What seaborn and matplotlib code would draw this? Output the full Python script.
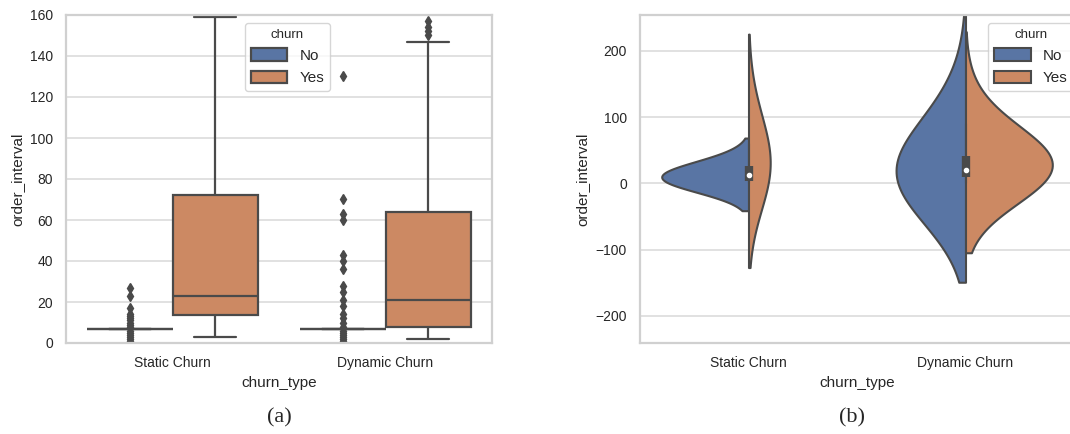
import numpy as np
import pandas as pd
import matplotlib
matplotlib.use("Agg")
import matplotlib.pyplot as plt
import seaborn as sns

# === 0. Data ===
churn_types = ["Static Churn", "Dynamic Churn"]
churn_levels = ["No", "Yes"]

# (a) boxplot: "No" groups are mostly a single value (7) plus many outliers
static_no_mode, static_no_mode_count = 7, 34
static_no_other = [0, 1, 2, 3, 4, 5, 6, 8, 9, 10, 11, 12, 13, 14, 17, 23, 27]
dynamic_no_mode, dynamic_no_mode_count = 7, 45
dynamic_no_other = [0, 1, 2, 3, 4, 5, 6, 8, 10, 12, 14, 18, 21, 25, 28,
                    36, 40, 43, 60, 63, 70, 130]
static_yes = [3, 6, 10, 13.5, 16, 20, 23, 30, 45, 72, 110, 159, 210]
dynamic_yes = [2, 3, 4, 5, 6, 7, 8, 10, 12, 14, 16, 18, 21, 26, 32, 40, 48,
               56, 64, 147, 150, 152, 154, 157, 190]

# (b) split violin
vio_static_no = [0, 0, 1, 3, 7, 8, 12, 20, 25, 27]
vio_dynamic_no = [0, 2, 5, 7, 10, 20, 45, 110]
vio_static_yes = [3, 14, 22, 32, 42, 95]
vio_dynamic_yes = [4, 5, 6, 8, 10, 12, 14, 16, 18, 20, 21, 23, 25, 28, 30,
                   33, 36, 40, 45, 50, 55, 64, 80, 120]

GRAY = "#4a4a4a"


def make_frame(groups):
    rows = []
    for ctype, churn, values in groups:
        for v in values:
            rows.append({"churn_type": ctype, "churn": churn, "order_interval": v})
    return pd.DataFrame(rows)


box_df = make_frame([
    ("Static Churn", "No", [static_no_mode] * static_no_mode_count + static_no_other),
    ("Static Churn", "Yes", static_yes),
    ("Dynamic Churn", "No", [dynamic_no_mode] * dynamic_no_mode_count + dynamic_no_other),
    ("Dynamic Churn", "Yes", dynamic_yes),
])
vio_df = make_frame([
    ("Static Churn", "No", vio_static_no),
    ("Static Churn", "Yes", vio_static_yes),
    ("Dynamic Churn", "No", vio_dynamic_no),
    ("Dynamic Churn", "Yes", vio_dynamic_yes),
])

# === 1. Style ===
sns.set_theme(style="whitegrid")
plt.rcParams["font.family"] = ["Liberation Sans", "DejaVu Sans"]
plt.rcParams["xtick.labelsize"] = 10
plt.rcParams["ytick.labelsize"] = 10
plt.rcParams["axes.labelsize"] = 11
plt.rcParams["axes.edgecolor"] = "#d0d0d0"
plt.rcParams["axes.linewidth"] = 1.6
plt.rcParams["grid.color"] = "#dcdcdc"
plt.rcParams["grid.linewidth"] = 1.2

W, H = 1070, 434
fig = plt.figure(figsize=(W / 100, H / 100), dpi=100)
ax1 = fig.add_axes([66 / W, (H - 343) / H, (492 - 66) / W, (343 - 15) / H])
ax2 = fig.add_axes([640 / W, (H - 343) / H, (1074 - 640) / W, (343 - 15) / H])

# === 2. (a) Boxplot ===
sns.boxplot(data=box_df, x="churn_type", y="order_interval", hue="churn",
            order=churn_types, hue_order=churn_levels, ax=ax1,
            linewidth=1.6, linecolor=GRAY,
            flierprops={"marker": "d", "markerfacecolor": GRAY,
                        "markeredgecolor": GRAY, "markersize": 5.5})
ax1.set_ylim(0, 160)
ax1.set_yticks(range(0, 161, 20))
sns.move_legend(ax1, "upper center", bbox_to_anchor=(0.52, 1.0),
                fontsize=11, title_fontsize=9.5, handlelength=2.4,
                handleheight=0.9)

# === 3. (b) Split violin with a single combined inner box ===
sns.violinplot(data=vio_df, x="churn_type", y="order_interval", hue="churn",
               order=churn_types, hue_order=churn_levels, split=True,
               density_norm="count", bw_method=2, inner=None, ax=ax2,
               linewidth=1.5, linecolor=GRAY)
for i, ctype in enumerate(churn_types):
    vals = vio_df.loc[vio_df["churn_type"] == ctype, "order_interval"].to_numpy()
    q25, q50, q75 = np.percentile(vals, [25, 50, 75])
    iqr = q75 - q25
    lo = max(q25 - 1.5 * iqr, vals.min())
    hi = min(q75 + 1.5 * iqr, vals.max())
    ax2.plot([i, i], [lo, hi], color=GRAY, lw=1.5, zorder=3)
    ax2.plot([i, i], [q25, q75], color=GRAY, lw=6, solid_capstyle="butt", zorder=3)
    ax2.scatter(i, q50, s=9, color="white", zorder=4)
ax2.set_ylim(-241, 254)
ax2.set_yticks([-200, -100, 0, 100, 200])
ax2.set_xlim(-0.5, 1.5)
sns.move_legend(ax2, "upper left", bbox_to_anchor=(0.784, 1.0),
                fontsize=11, title_fontsize=9.5, handlelength=2.4,
                handleheight=0.9)

for ax in (ax1, ax2):
    ax.xaxis.grid(False)

fig.text(279 / W, 1 - 418 / H, "(a)", ha="center", va="center",
         family="Liberation Serif", fontsize=16)
fig.text(852 / W, 1 - 418 / H, "(b)", ha="center", va="center",
         family="Liberation Serif", fontsize=16)

fig.savefig("out.png", dpi=100)
